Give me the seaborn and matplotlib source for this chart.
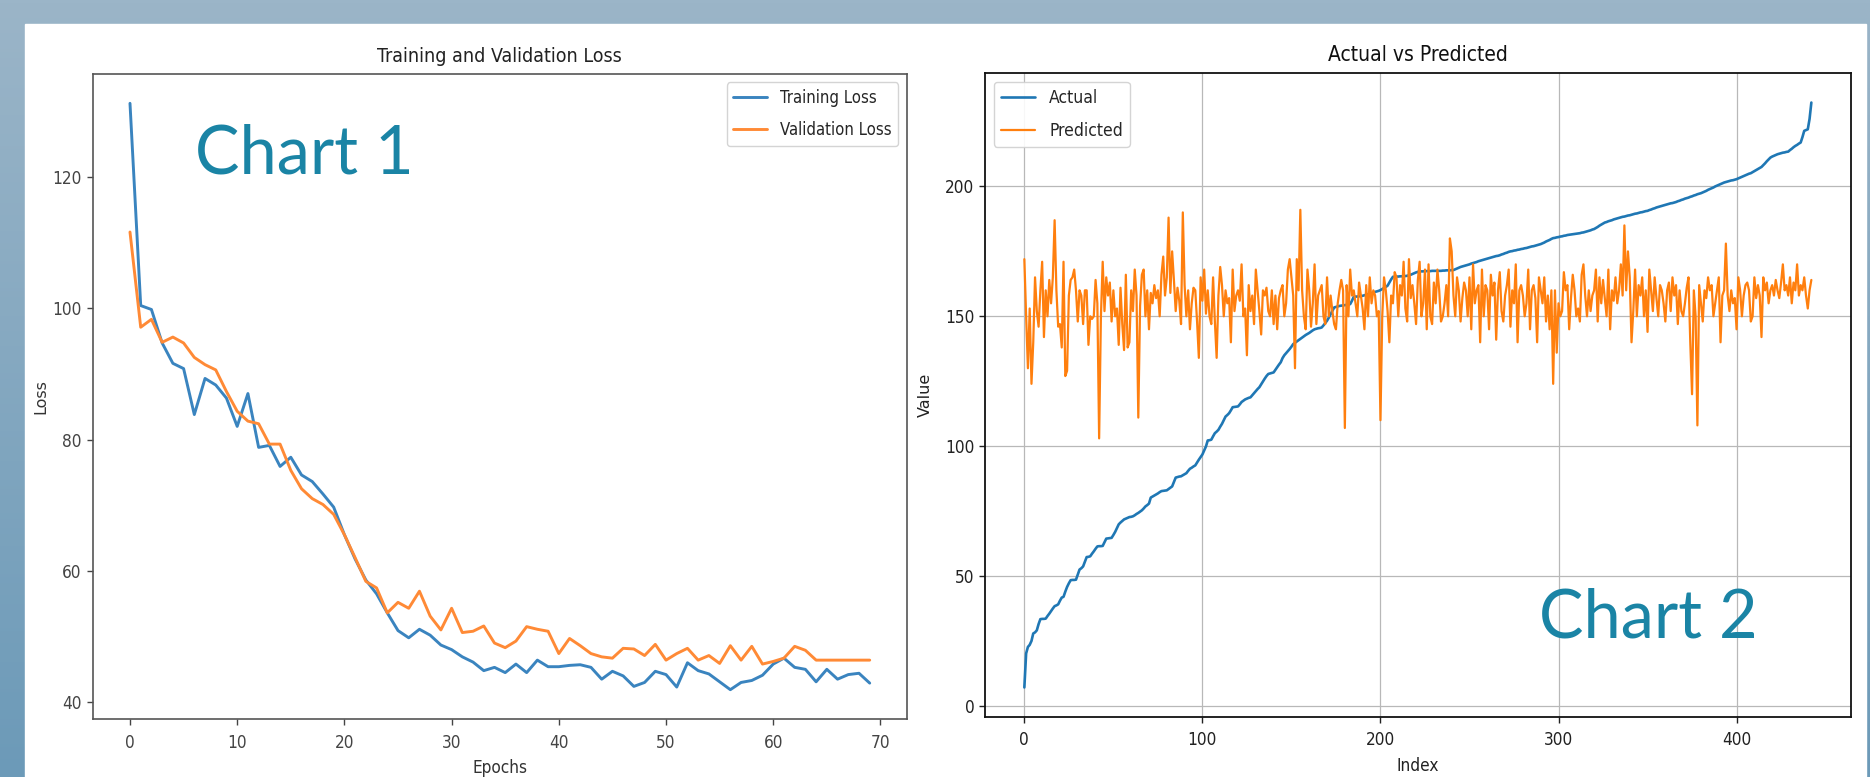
import numpy as np
import matplotlib
matplotlib.use("Agg")
import matplotlib.pyplot as plt
from matplotlib.patches import Rectangle
import seaborn as sns

sns.set_theme(style="ticks")
plt.rcParams["font.family"] = ["DejaVu Sans"]
plt.rcParams["font.stretch"] = "condensed"

# ---- data ----
epochs = np.arange(70)
train_loss = [131.2, 100.4, 99.8, 94.7, 91.6, 90.8, 83.8, 89.3, 88.3, 86.3,
              82.0, 87.0, 78.8, 79.1, 75.9, 77.3, 74.6, 73.6, 71.7, 69.7,
              65.5, 61.8, 58.6, 56.5, 53.6, 50.9, 49.8, 51.1, 50.2, 48.7,
              48.0, 46.9, 46.1, 44.8, 45.3, 44.5, 45.8, 44.5, 46.4, 45.4,
              45.4, 45.6, 45.7, 45.3, 43.5, 44.7, 44.0, 42.4, 43.0, 44.7,
              44.2, 42.3, 46.0, 44.8, 44.3, 43.1, 41.9, 43.0, 43.3, 44.1,
              45.8, 46.7, 45.3, 45.0, 43.1, 45.0, 43.5, 44.2, 44.4, 42.9]
val_loss = [111.6, 97.1, 98.3, 94.8, 95.6, 94.7, 92.5, 91.4, 90.6, 87.3,
            84.3, 82.8, 82.4, 79.3, 79.3, 75.3, 72.5, 71.0, 70.1, 68.6,
            65.5, 62.0, 58.4, 57.4, 53.6, 55.2, 54.3, 56.9, 53.1, 51.0,
            54.3, 50.6, 50.8, 51.6, 49.0, 48.3, 49.3, 51.5, 51.1, 50.8,
            47.4, 49.7, 48.6, 47.4, 46.9, 46.7, 48.2, 48.1, 47.1, 48.8,
            46.4, 47.4, 48.2, 46.4, 47.1, 45.9, 48.6, 46.4, 48.5, 45.8,
            46.2, 46.7, 48.5, 47.9, 46.4, 46.4, 46.4, 46.4, 46.4, 46.4]

actual = [7.1, 20.2, 22.7, 23.5, 25.0, 27.9, 28.3, 29.1, 31.5, 33.4,
          33.5, 33.5, 33.6, 34.6, 35.5, 36.5, 37.5, 38.4, 38.7, 39.1,
          40.5, 41.7, 42.0, 44.0, 45.8, 47.2, 48.4, 48.5, 48.5, 48.6,
          50.5, 52.5, 53.0, 53.7, 55.5, 57.3, 57.4, 57.6, 58.6, 59.5,
          60.5, 61.4, 61.5, 61.5, 61.6, 63.0, 64.4, 64.5, 64.6, 64.7,
          65.8, 67.0, 68.5, 69.9, 70.6, 71.2, 71.8, 72.1, 72.4, 72.7,
          72.8, 73.0, 73.4, 73.9, 74.3, 74.8, 75.3, 76.0, 76.8, 77.3,
          77.9, 80.2, 80.6, 81.0, 81.4, 81.8, 82.3, 82.7, 82.8, 82.9,
          83.0, 83.5, 84.0, 84.5, 86.2, 87.9, 88.1, 88.3, 88.4, 88.8,
          89.2, 89.6, 90.5, 91.3, 91.7, 92.2, 92.6, 93.7, 94.8, 95.8,
          96.8, 98.3, 99.9, 102.2, 102.3, 102.5, 103.8, 105.0, 105.6, 106.3,
          107.5, 108.6, 110.0, 111.4, 112.0, 112.7, 113.8, 115.0, 115.1, 115.2,
          115.3, 116.1, 117.0, 117.5, 118.0, 118.3, 118.6, 118.8, 119.6, 120.4,
          121.2, 122.0, 122.7, 123.8, 124.9, 126.0, 127.0, 127.8, 128.0, 128.2,
          128.4, 129.4, 130.4, 131.4, 132.3, 133.9, 135.0, 135.8, 136.6, 137.4,
          138.3, 139.3, 139.8, 140.3, 140.8, 141.3, 141.8, 142.3, 142.8, 143.2,
          143.6, 144.1, 144.6, 145.0, 145.2, 145.4, 145.5, 145.7, 146.5, 147.4,
          148.3, 149.5, 150.8, 152.1, 153.4, 153.6, 153.8, 154.0, 154.1, 154.2,
          154.3, 154.4, 154.5, 154.7, 156.0, 157.5, 157.6, 157.6, 157.7, 157.8,
          157.9, 158.1, 158.3, 158.5, 158.7, 158.9, 159.2, 159.4, 159.6, 159.8,
          160.1, 160.5, 160.9, 161.3, 161.8, 163.0, 164.2, 165.2, 165.2, 165.3,
          165.3, 165.4, 165.4, 165.5, 165.5, 165.6, 165.8, 166.0, 166.3, 166.6,
          166.9, 167.1, 167.3, 167.3, 167.3, 167.4, 167.4, 167.4, 167.4, 167.5,
          167.5, 167.5, 167.5, 167.5, 167.5, 167.6, 167.6, 167.7, 167.7, 167.7,
          167.8, 167.8, 168.1, 168.4, 168.7, 169.0, 169.2, 169.4, 169.6, 169.8,
          170.0, 170.3, 170.5, 170.7, 170.9, 171.2, 171.4, 171.6, 171.8, 172.0,
          172.2, 172.4, 172.6, 172.8, 173.0, 173.2, 173.3, 173.5, 173.8, 174.0,
          174.3, 174.5, 174.8, 175.0, 175.1, 175.3, 175.4, 175.6, 175.7, 175.9,
          176.0, 176.2, 176.3, 176.5, 176.7, 176.9, 177.0, 177.2, 177.4, 177.6,
          177.8, 178.1, 178.4, 178.8, 179.1, 179.4, 179.8, 180.1, 180.2, 180.4,
          180.5, 180.7, 180.8, 181.0, 181.1, 181.3, 181.4, 181.5, 181.6, 181.7,
          181.8, 181.9, 182.0, 182.2, 182.3, 182.5, 182.7, 182.9, 183.1, 183.4,
          183.6, 184.0, 184.4, 184.9, 185.3, 185.7, 186.1, 186.3, 186.6, 186.8,
          187.0, 187.3, 187.5, 187.7, 187.9, 188.1, 188.3, 188.4, 188.6, 188.8,
          188.9, 189.1, 189.3, 189.5, 189.6, 189.8, 190.0, 190.1, 190.3, 190.5,
          190.6, 190.9, 191.1, 191.4, 191.6, 191.9, 192.1, 192.3, 192.5, 192.7,
          192.9, 193.1, 193.3, 193.5, 193.6, 193.8, 194.0, 194.3, 194.5, 194.8,
          195.0, 195.3, 195.5, 195.7, 196.0, 196.2, 196.5, 196.7, 197.0, 197.2,
          197.4, 197.7, 198.0, 198.3, 198.7, 199.0, 199.3, 199.6, 200.0, 200.3,
          200.6, 200.9, 201.2, 201.5, 201.7, 201.9, 202.1, 202.3, 202.4, 202.6,
          202.8, 203.1, 203.4, 203.7, 204.0, 204.3, 204.6, 204.9, 205.1, 205.5,
          205.9, 206.3, 206.7, 207.1, 207.5, 208.2, 208.9, 209.7, 210.4, 211.1,
          211.5, 211.8, 212.1, 212.4, 212.6, 212.8, 213.0, 213.1, 213.3, 213.4,
          214.0, 214.5, 215.1, 215.6, 216.0, 216.5, 216.9, 219.0, 221.4, 221.7,
          222.0, 226.0, 232.3]

predicted = [172, 150, 130, 153, 124, 140, 165, 152, 146, 160, 171, 142, 160, 150, 164, 155, 165, 187, 160, 146,
             147, 138, 171, 127, 129, 158, 164, 165, 168, 160, 148, 160, 158, 147, 160, 160, 139, 150, 149, 150,
             164, 155, 103, 150, 171, 152, 165, 158, 163, 148, 160, 150, 153, 139, 161, 147, 137, 166, 138, 140,
             160, 152, 168, 158, 111, 154, 166, 168, 150, 160, 145, 159, 155, 162, 157, 160, 150, 166, 173, 158,
             165, 188, 159, 175, 164, 152, 161, 156, 147, 190, 162, 150, 160, 145, 155, 161, 160, 148, 134, 165,
             156, 168, 151, 160, 150, 147, 165, 148, 134, 158, 169, 162, 150, 160, 155, 157, 140, 168, 152, 158,
             160, 156, 170, 150, 153, 135, 162, 152, 158, 147, 168, 160, 152, 143, 160, 158, 161, 152, 150, 160,
             147, 158, 145, 157, 160, 162, 150, 155, 168, 172, 165, 158, 130, 172, 160, 191, 160, 150, 145, 168,
             160, 146, 155, 170, 147, 158, 160, 162, 150, 147, 165, 150, 158, 152, 147, 145, 155, 160, 164, 160,
             107, 162, 150, 168, 158, 160, 155, 150, 163, 158, 153, 145, 162, 150, 165, 155, 160, 158, 150, 152,
             110, 150, 165, 160, 152, 140, 158, 155, 167, 165, 150, 162, 158, 171, 153, 148, 172, 157, 162, 155,
             147, 164, 171, 150, 155, 168, 145, 170, 150, 147, 163, 155, 168, 160, 148, 150, 155, 162, 150, 180,
             175, 158, 150, 165, 160, 148, 157, 163, 160, 150, 165, 145, 170, 155, 160, 162, 140, 168, 150, 162,
             160, 145, 166, 158, 163, 141, 160, 167, 152, 148, 158, 162, 168, 146, 160, 155, 170, 140, 160, 162,
             158, 150, 155, 168, 145, 160, 162, 157, 140, 165, 160, 155, 165, 148, 158, 145, 160, 124, 160, 136,
             155, 150, 152, 167, 160, 162, 145, 157, 166, 160, 150, 153, 148, 166, 170, 158, 150, 160, 152, 158,
             160, 168, 148, 165, 155, 164, 157, 150, 168, 145, 160, 156, 165, 155, 160, 170, 158, 185, 160, 175,
             165, 140, 152, 168, 150, 162, 158, 165, 150, 160, 144, 168, 160, 152, 165, 157, 150, 162, 160, 155,
             148, 160, 163, 152, 165, 158, 162, 147, 160, 152, 150, 155, 161, 165, 140, 120, 160, 150, 108, 162,
             155, 148, 160, 157, 165, 160, 162, 150, 155, 160, 165, 140, 158, 160, 178, 158, 152, 160, 155, 157,
             145, 165, 160, 150, 158, 162, 163, 160, 148, 150, 165, 157, 162, 158, 142, 165, 160, 163, 155, 160,
             162, 158, 164, 160, 157, 163, 170, 160, 162, 158, 165, 155, 163, 160, 170, 158, 162, 160, 165, 158,
             153, 160, 164]

W, H = 1870, 777
fig = plt.figure(figsize=(W / 100, H / 100), dpi=100)

# slide backdrop: blue-grey gradient with a white card on top
bg = fig.add_axes([0, 0, 1, 1], zorder=-5)
top_c = np.array([155, 181, 200]) / 255
bot_c = np.array([108, 154, 184]) / 255
t = np.linspace(0, 1, 256)[:, None, None]
bg.imshow(top_c + (bot_c - top_c) * t, aspect="auto", extent=[0, 1, 0, 1])
bg.add_patch(Rectangle((25 / W, 0), (1866 - 25) / W, 1 - 24 / H, color="white"))
bg.set_xlim(0, 1)
bg.set_ylim(0, 1)
bg.axis("off")

# ---- chart 1 ----
ax1 = fig.add_axes([93 / W, 1 - 719 / H, (906.7 - 93) / W, (719 - 74) / H])
sns.lineplot(x=epochs, y=train_loss, ax=ax1, label="Training Loss",
             color="#3a84bf", lw=2.1)
sns.lineplot(x=epochs, y=val_loss, ax=ax1, label="Validation Loss",
             color="#ff8a36", lw=2.1)
ax1.set_title("Training and Validation Loss", fontsize=14, color="#222", pad=9)
ax1.set_xlabel("Epochs", fontsize=12.3, color="#333")
ax1.set_ylabel("Loss", fontsize=11.5, color="#333", fontstretch="normal")
ax1.set_xticks(range(0, 71, 10))
ax1.tick_params(labelsize=12.3, length=4.5, width=1, colors="#444")
ax1.tick_params(axis="x", pad=6)
ax1.tick_params(axis="y", pad=4)
for s in ax1.spines.values():
    s.set_color("#555")
    s.set_linewidth(1.2)
ax1.xaxis.set_label_coords(0.5, -0.062)
ax1.yaxis.set_label_coords(-0.055, 0.5)
ax1.legend(loc="upper right", fontsize=12, labelspacing=0.85,
           framealpha=0.9, edgecolor="#d0d0d0")

# ---- chart 2 ----
idx_a = np.arange(len(actual))
idx_p = np.arange(len(predicted))
ax2 = fig.add_axes([985 / W, 1 - 716.7 / H, (1850.7 - 985) / W, (716.7 - 73.3) / H])
sns.lineplot(x=idx_a, y=actual, ax=ax2, label="Actual", color="#1f77b4", lw=1.9)
sns.lineplot(x=idx_p, y=predicted, ax=ax2, label="Predicted", color="#ff7f0e", lw=1.6)
ax2.grid(True, color="#b8b8b8", lw=0.9)
ax2.set_axisbelow(True)
ax2.set_title("Actual vs Predicted", fontsize=15, color="#111", pad=9)
ax2.set_xlabel("Index", fontsize=12.3, color="#222")
ax2.set_ylabel("Value", fontsize=11.5, color="#222", fontstretch="normal")
ax2.set_xticks(range(0, 401, 100))
ax2.set_yticks(range(0, 201, 50))
ax2.tick_params(labelsize=12.3, length=4.5, width=1, colors="#222")
ax2.tick_params(axis="x", pad=6)
ax2.tick_params(axis="y", pad=3)
for s in ax2.spines.values():
    s.set_color("#111")
    s.set_linewidth(1.3)
ax2.xaxis.set_label_coords(0.5, -0.062)
ax2.yaxis.set_label_coords(-0.060, 0.5)
ax2.legend(loc="upper left", fontsize=12.5, labelspacing=0.85,
           framealpha=0.9, edgecolor="#d0d0d0")

# slide labels
for txt, x, y in [("Chart 1", 195, 173), ("Chart 2", 1539, 638)]:
    fig.text(x / W, 1 - y / H, txt, fontsize=48, color="#1a84a5",
             family=["Lato", "DejaVu Sans"], fontstretch="normal",
             ha="left", va="baseline")

fig.savefig("out.png", dpi=100)
